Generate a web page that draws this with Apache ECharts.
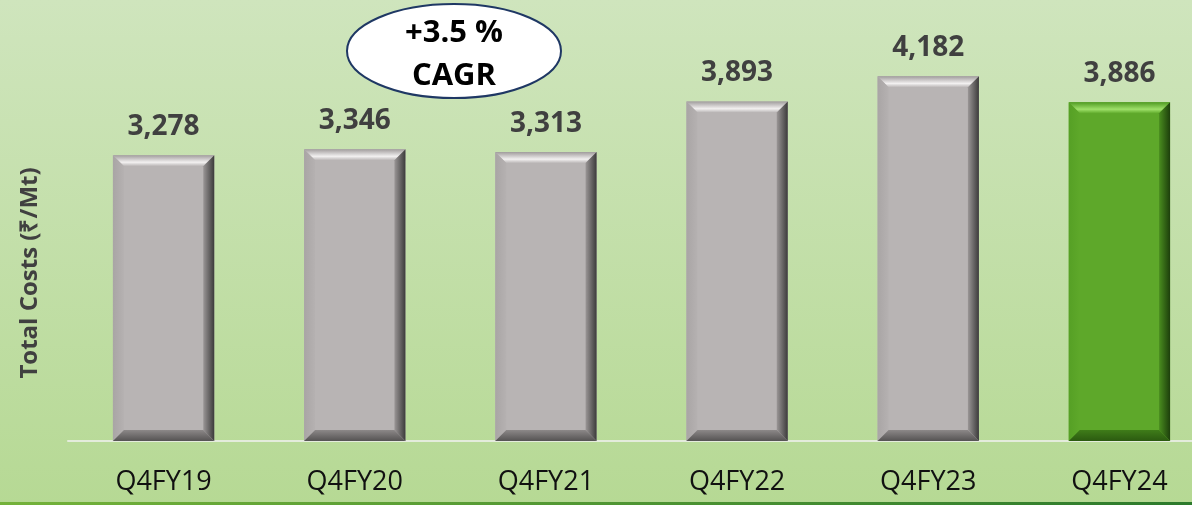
<!DOCTYPE html>
<html>
<head>
<meta charset="UTF-8"/>
<title>Total Costs</title>
<script src="https://cdn.jsdelivr.net/npm/echarts@6/dist/echarts.min.js"></script>
<style>
  html, body { margin: 0; padding: 0; }
  #placeholder { width: 1192px; height: 505px; }
</style>
</head>
<body>
<div id="placeholder"></div>
<script type="text/javascript">
var categories = ['Q4FY19', 'Q4FY20', 'Q4FY21', 'Q4FY22', 'Q4FY23', 'Q4FY24'];
var totalCosts = [3278, 3346, 3313, 3893, 4182, 3886];
var highlightIndex = 5;
var yAxisTitle = 'Total Costs (₹/Mt)';
var cagrText = ['+3.5 %', 'CAGR'];

var myChart = echarts.init(document.getElementById('placeholder'));

var lg = function (x, y, x2, y2, stops) {
    return new echarts.graphic.LinearGradient(x, y, x2, y2, stops.map(function (s) {
        return { offset: s[0], color: s[1] };
    }));
};

// bevel colours, grey bars and the green one
var bevel = {
    grey: {
        top: ['#a19d9d', '#f2f0f0', '#b9b5b5'],
        right: ['#9a9696', '#3c3b3b'],
        bottom: ['#8c8888', '#555353'],
        left: ['#a9a5a5', '#b5b1b1']
    },
    green: {
        top: ['#4f9a22', '#9fe06a', '#62ad2d'],
        right: ['#4a8d1f', '#1d3f0c'],
        bottom: ['#3f7c19', '#2b5a10'],
        left: ['#56a025', '#5ea82a']
    }
};

var renderBevel = function (params, api) {
    var idx = api.value(0);
    var top = api.coord([idx, api.value(1)]);
    var base = api.coord([idx, 0]);
    var bw = api.size([1, 0])[0] * 0.53;
    var x0 = top[0] - bw / 2, x1 = top[0] + bw / 2;
    var y0 = top[1], y1 = base[1];
    var b = 11;
    var c = idx === highlightIndex ? bevel.green : bevel.grey;
    return {
        type: 'group',
        children: [
            {
                type: 'polygon',
                shape: { points: [[x0, y0], [x1, y0], [x1 - b, y0 + b], [x0 + b, y0 + b]] },
                style: { fill: lg(0, 0, 0, 1, [[0, c.top[0]], [0.65, c.top[1]], [1, c.top[2]]]) }
            },
            {
                type: 'polygon',
                shape: { points: [[x0, y0], [x0 + b, y0 + b], [x0 + b, y1 - b], [x0, y1]] },
                style: { fill: lg(0, 0, 1, 0, [[0, c.left[0]], [1, c.left[1]]]) }
            },
            {
                type: 'polygon',
                shape: { points: [[x1, y0], [x1, y1], [x1 - b, y1 - b], [x1 - b, y0 + b]] },
                style: { fill: lg(0, 0, 1, 0, [[0, c.right[0]], [1, c.right[1]]]) }
            },
            {
                type: 'polygon',
                shape: { points: [[x0, y1], [x1, y1], [x1 - b, y1 - b], [x0 + b, y1 - b]] },
                style: { fill: lg(0, 0, 0, 1, [[0, c.bottom[0]], [1, c.bottom[1]]]) }
            }
        ]
    };
};

var option = {
    animation: false,
    backgroundColor: lg(0, 0, 0, 1, [[0, '#cfe5bd'], [1, '#b6d994']]),
    grid: { left: 68, right: -23, top: 5, bottom: 64, outerBoundsMode: 'none', containLabel: false },
    xAxis: {
        type: 'category',
        data: categories,
        axisLine: { lineStyle: { color: '#e4ecdc', width: 2 } },
        axisTick: { show: false },
        axisLabel: {
            color: '#111',
            fontFamily: 'Open Sans',
            fontSize: 27,
            margin: 28
        }
    },
    yAxis: {
        type: 'value',
        min: 0,
        max: 5000,
        axisLine: { show: false },
        axisTick: { show: false },
        axisLabel: { show: false },
        splitLine: { show: false }
    },
    series: [
        {
            type: 'bar',
            barWidth: '53%',
            data: totalCosts.map(function (v, i) {
                return {
                    value: v,
                    itemStyle: { color: i === highlightIndex ? '#5ea82a' : '#b8b4b4' }
                };
            }),
            label: {
                show: true,
                position: 'top',
                distance: 14,
                color: '#404040',
                fontFamily: 'Open Sans',
                fontWeight: 'bold',
                fontSize: 28,
                formatter: function (p) {
                    return p.value.toLocaleString('en-US');
                }
            }
        },
        {
            type: 'custom',
            renderItem: renderBevel,
            data: totalCosts.map(function (v, i) { return [i, v]; }),
            encode: { x: 0, y: 1 },
            z: 3,
            silent: true
        }
    ],
    graphic: [
        {
            type: 'text',
            x: 30,
            y: 273,
            rotation: Math.PI / 2,
            style: {
                text: yAxisTitle,
                fill: '#404040',
                font: 'bold 24px "Open Sans"',
                align: 'center',
                verticalAlign: 'middle'
            }
        },
        {
            type: 'ellipse',
            shape: { cx: 454, cy: 51, rx: 107, ry: 47 },
            style: { fill: '#ffffff', stroke: '#1f3864', lineWidth: 2 },
            z: 10
        },
        {
            type: 'text',
            x: 454,
            y: 33,
            style: {
                text: cagrText[0],
                fill: '#000',
                font: 'bold 31px "Open Sans"',
                align: 'center',
                verticalAlign: 'middle'
            },
            z: 11
        },
        {
            type: 'text',
            x: 454,
            y: 76,
            style: {
                text: cagrText[1],
                fill: '#000',
                font: 'bold 31px "Open Sans"',
                align: 'center',
                verticalAlign: 'middle'
            },
            z: 11
        },
        {
            type: 'rect',
            shape: { x: 0, y: 502, width: 1192, height: 3 },
            style: { fill: lg(0, 0, 1, 0, [[0, '#74b23a'], [1, '#2c7a2c']]) },
            z: 10
        }
    ]
};

if (option && typeof option === "object") {
    myChart.setOption(option, true);
}
</script>
</body>
</html>
